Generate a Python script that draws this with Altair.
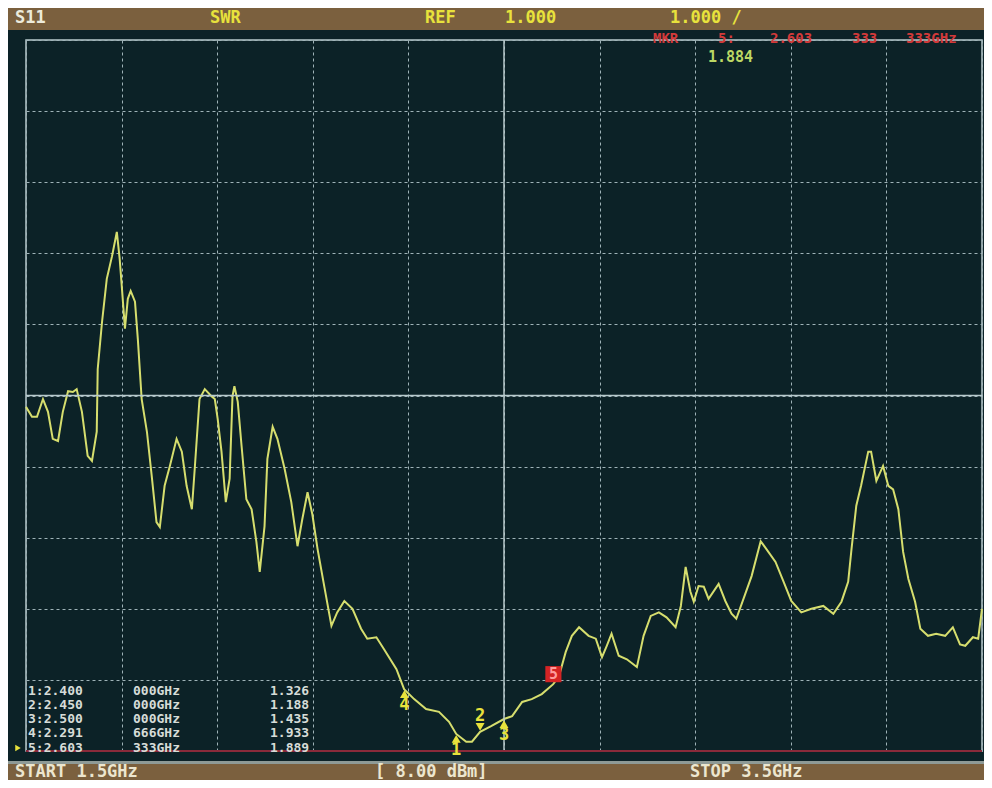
import altair as alt
import pandas as pd

# ---------------- data ----------------
# S11 trace: frequency (GHz) and level (in screen divisions above the bottom line)
freq_ghz = [1.500, 1.5125, 1.523, 1.5355, 1.546, 1.556, 1.567, 1.577, 1.588, 1.598,
            1.606, 1.617, 1.629, 1.638, 1.648, 1.650, 1.659, 1.669, 1.680, 1.690,
            1.696, 1.700, 1.707, 1.713, 1.719, 1.728, 1.734, 1.742, 1.753, 1.763,
            1.773, 1.780, 1.790, 1.801, 1.815, 1.826, 1.836, 1.847, 1.853, 1.863,
            1.874, 1.888, 1.895, 1.901, 1.909, 1.918, 1.926, 1.932, 1.936, 1.943,
            1.951, 1.961, 1.972, 1.982, 1.989, 1.999, 2.005, 2.016, 2.026, 2.041,
            2.055, 2.068, 2.078, 2.089, 2.099, 2.110, 2.122, 2.139, 2.151, 2.166,
            2.183, 2.201, 2.214, 2.233, 2.249, 2.275, 2.291, 2.312, 2.337, 2.364,
            2.385, 2.400, 2.421, 2.433, 2.450, 2.473, 2.500, 2.517, 2.538, 2.558,
            2.579, 2.603, 2.615, 2.629, 2.642, 2.657, 2.677, 2.692, 2.705, 2.715,
            2.725, 2.740, 2.757, 2.778, 2.792, 2.807, 2.824, 2.840, 2.859, 2.870,
            2.880, 2.890, 2.897, 2.907, 2.918, 2.928, 2.949, 2.963, 2.976, 2.986,
            3.001, 3.018, 3.037, 3.049, 3.068, 3.085, 3.101, 3.122, 3.143, 3.168,
            3.189, 3.206, 3.220, 3.227, 3.237, 3.247, 3.262, 3.268, 3.279, 3.293,
            3.304, 3.314, 3.325, 3.335, 3.346, 3.360, 3.371, 3.387, 3.404, 3.423,
            3.439, 3.454, 3.465, 3.481, 3.492, 3.500]
level_div = [4.84, 4.70, 4.70, 4.95, 4.77, 4.39, 4.36, 4.77, 5.06, 5.05,
             5.09, 4.77, 4.15, 4.08, 4.49, 5.37, 6.03, 6.64, 6.96, 7.30,
             6.92, 6.57, 5.94, 6.36, 6.47, 6.32, 5.79, 4.95, 4.49, 3.87,
             3.22, 3.15, 3.73, 4.01, 4.39, 4.21, 3.73, 3.40, 3.97, 4.95,
             5.09, 4.99, 4.95, 4.67, 4.21, 3.50, 3.83, 4.99, 5.13, 4.91,
             4.29, 3.54, 3.40, 2.94, 2.52, 3.16, 4.11, 4.56, 4.39, 3.97,
             3.50, 2.88, 3.26, 3.64, 3.33, 2.84, 2.39, 1.76, 1.95, 2.11,
             2.00, 1.72, 1.58, 1.60, 1.43, 1.15, 0.87, 0.73, 0.59, 0.55,
             0.41, 0.24, 0.13, 0.13, 0.27, 0.35, 0.45, 0.49, 0.69, 0.73,
             0.80, 0.94, 1.05, 1.39, 1.62, 1.74, 1.62, 1.58, 1.32, 1.48,
             1.65, 1.34, 1.29, 1.18, 1.62, 1.90, 1.95, 1.88, 1.74, 2.04,
             2.59, 2.24, 2.10, 2.32, 2.31, 2.14, 2.35, 2.11, 1.93, 1.86,
             2.14, 2.46, 2.95, 2.84, 2.66, 2.38, 2.11, 1.95, 2.00, 2.04,
             1.93, 2.10, 2.38, 2.84, 3.45, 3.73, 4.21, 4.21, 3.80, 4.01,
             3.73, 3.68, 3.40, 2.80, 2.42, 2.10, 1.72, 1.62, 1.65, 1.62,
             1.74, 1.50, 1.48, 1.60, 1.58, 2.00]

x_grid_ghz = [1.5, 1.7, 1.9, 2.1, 2.3, 2.5, 2.7, 2.9, 3.1, 3.3, 3.5]
y_grid_div = [0, 1, 2, 3, 4, 5, 6, 7, 8, 9, 10]
ref_freq = [2.5]
ref_level = [5]
limit_level = [0]

marker_id = [1, 2, 3, 4, 5]
marker_freq = [2.400, 2.450, 2.500, 2.291666, 2.603333]
marker_level = [0.24, 0.27, 0.45, 0.87, 0.94]
marker_freq_text = ["2.400 000GHz", "2.450 000GHz", "2.500 000GHz",
                    "2.291 666GHz", "2.603 333GHz"]
marker_swr_text = ["1.326", "1.188", "1.435", "1.933", "1.889"]

header_channel = "S11"
header_format = "SWR"
header_ref = "REF"
header_ref_value = "1.000"
header_scale = "1.000 /"
readout_parts = ["MKR", "5:", "2.603", "333", "333GHz"]
readout_value = "1.884"
footer_start = "START 1.5GHz"
footer_power = "[ 8.00 dBm]"
footer_stop = "STOP 3.5GHz"

# ---------------- styling ----------------
W, H = 956, 711
BG = "#0c2227"
BROWN = "#7b603e"
GRID = "#9fb3b8"
SOLID = "#b8cacd"
TRACE = "#d6de6e"
YEL = "#e8e23c"
MONO = "DejaVu Sans Mono"

trace_df = pd.DataFrame({"freq": freq_ghz, "level": level_div})
mk_df = pd.DataFrame({"id": marker_id, "freq": marker_freq, "level": marker_level})

xs = alt.Scale(domain=[1.5, 3.5], nice=False, zero=False)
ys = alt.Scale(domain=[0, 10], nice=False, zero=False)
xaxis = alt.Axis(values=x_grid_ghz, grid=True, labels=False, ticks=False, domain=False,
                 title=None, gridColor=GRID, gridDash=[3, 3], gridWidth=1)
yaxis = alt.Axis(values=y_grid_div, grid=True, labels=False, ticks=False, domain=False,
                 title=None, gridColor=GRID, gridDash=[3, 3], gridWidth=1)


def one():
    return pd.DataFrame({"t": [""]})


def label(text, x, y, color, size, bold=True, align="left"):
    return alt.Chart(pd.DataFrame({"t": [text]})).mark_text(
        align=align, baseline="middle", font=MONO, fontSize=size,
        fontWeight="bold" if bold else "normal", color=color
    ).encode(x=alt.value(x), y=alt.value(y), text="t:N")


def band(x1, x2, y1, y2, color):
    return alt.Chart(one()).mark_rect(color=color).encode(
        x=alt.value(x1), x2=alt.value(x2), y=alt.value(y1), y2=alt.value(y2))


trace = alt.Chart(trace_df).mark_line(color=TRACE, strokeWidth=2).encode(
    x=alt.X("freq:Q", scale=xs, axis=xaxis),
    y=alt.Y("level:Q", scale=ys, axis=yaxis),
)

ref_v = alt.Chart(pd.DataFrame({"freq": ref_freq})).mark_rule(color=SOLID, strokeWidth=1.5).encode(
    x=alt.X("freq:Q", scale=xs))
ref_h = alt.Chart(pd.DataFrame({"level": ref_level})).mark_rule(color=SOLID, strokeWidth=1.5).encode(
    y=alt.Y("level:Q", scale=ys))
limit = alt.Chart(pd.DataFrame({"level": limit_level})).mark_rule(color="#8a2a3a", strokeWidth=2).encode(
    y=alt.Y("level:Q", scale=ys))

header = band(-18, 958, -32, -10, BROWN)
footer = band(-18, 958, 724, 740, BROWN)
footer_line = band(-18, 958, 721, 724, "#8e9a96")

texts = [
    label(header_channel, -11, -22, "#ecebdc", 17),
    label(header_format, 184, -22, YEL, 17),
    label(header_ref, 399, -22, YEL, 17),
    label(header_ref_value, 479, -22, YEL, 17),
    label(header_scale, 644, -22, YEL, 17),
    label(readout_value, 682, 17, "#bcd864", 15),
    label(footer_start, -11, 732, "#ece6cf", 17),
    label(footer_power, 349, 732, "#ece6cf", 17),
    label(footer_stop, 664, 732, "#ece6cf", 17),
]
readout_x = [627, 692, 744, 826, 880]
for part, px in zip(readout_parts, readout_x):
    texts.append(label(part, px, -1, "#d23a3a", 14))

# marker table, one text per row and column
row_y = [651, 665, 679, 693, 708]
table = []
for i, ft, sv, ry in zip(marker_id, marker_freq_text, marker_swr_text, row_y):
    head, tail = ft.split(" ")
    table.append(label(f"{i}:{head}", 2, ry, "#d6dcd8", 13, bold=True))
    table.append(label(tail, 107, ry, "#d6dcd8", 13, bold=True))
    table.append(label(sv, 244, ry, "#d6dcd8", 13, bold=True))

active = alt.Chart(one()).mark_point(shape="triangle-right", filled=True, size=40,
                                     color=YEL, opacity=1).encode(
    x=alt.value(-8), y=alt.value(708))

enc = dict(x=alt.X("freq:Q", scale=xs), y=alt.Y("level:Q", scale=ys))
mk = alt.Chart(mk_df)
up = mk.transform_filter("datum.id == 1 || datum.id == 3 || datum.id == 4")
up_pts = up.mark_point(shape="triangle-up", filled=True, size=80, color=YEL,
                       opacity=1, yOffset=5).encode(**enc)
up_txt = up.mark_text(font=MONO, fontSize=17, fontWeight="bold", color=YEL,
                      dy=16).encode(text="id:N", **enc)
dn = mk.transform_filter("datum.id == 2")
dn_pts = dn.mark_point(shape="triangle-down", filled=True, size=80, color=YEL,
                       opacity=1, yOffset=-5).encode(**enc)
dn_txt = dn.mark_text(font=MONO, fontSize=17, fontWeight="bold", color=YEL,
                      dy=-16).encode(text="id:N", **enc)
rd = mk.transform_filter("datum.id == 5")
rd_pts = rd.mark_square(size=260, color="#d42424", opacity=1, yOffset=-10).encode(**enc)
rd_txt = rd.mark_text(font=MONO, fontSize=15, fontWeight="bold", color="#ff9c9c",
                      dy=-10).encode(text="id:N", **enc)

chart = alt.layer(
    trace, ref_v, ref_h, limit, header, footer_line, footer,
    *texts, *table, active,
    up_pts, up_txt, dn_pts, dn_txt, rd_pts, rd_txt,
).properties(
    width=W, height=H,
    padding={"left": 18, "top": 32, "right": 2, "bottom": 29},
    autosize=alt.AutoSizeParams(type="none"),
    background=BG,
).configure_view(stroke=SOLID, strokeWidth=1.5)

chart.save("out.html", embed_options={"renderer": "svg", "actions": False})
